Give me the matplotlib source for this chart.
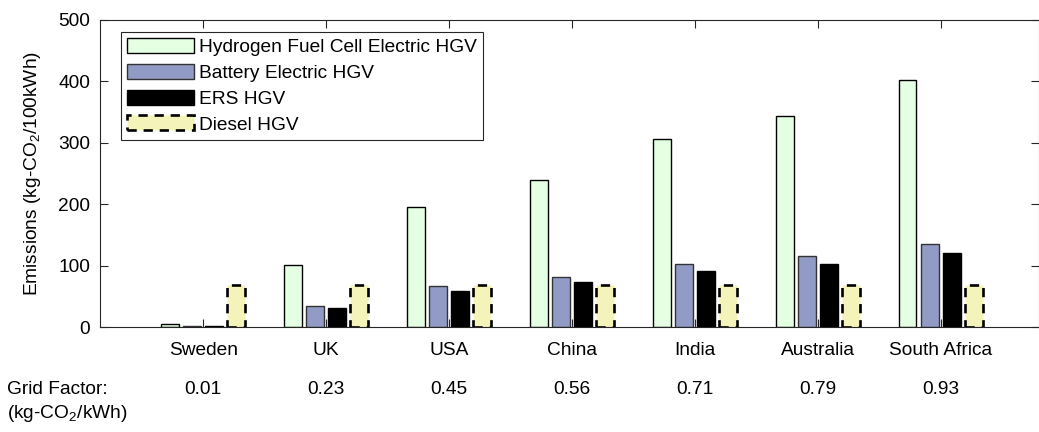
import matplotlib.pyplot as plt
import numpy as np

plt.rcParams['font.family'] = ['Liberation Sans', 'DejaVu Sans']
plt.rcParams['mathtext.default'] = 'regular'

countries = ['Sweden', 'UK', 'USA', 'China', 'India', 'Australia', 'South Africa']
grid_factor = ['0.01', '0.23', '0.45', '0.56', '0.71', '0.79', '0.93']

hydrogen = [4.5, 101, 196, 239, 307, 343, 403]
battery = [1.5, 34, 66, 81, 103, 115, 135]
ers = [1.3, 31, 59, 73, 92, 103, 121]
diesel = [69, 69, 69, 69, 69, 69, 69]

series_names = ['Hydrogen Fuel Cell Electric HGV', 'Battery Electric HGV',
                'ERS HGV', 'Diesel HGV']

fs = 13.8
dpi = 100
fig = plt.figure(figsize=(10.39, 4.32), dpi=dpi)
W, H = 1039, 432
ax = fig.add_axes([100 / W, (H - 327) / H, 939 / W, 307 / H])

x = np.arange(1, len(countries) + 1)
w = 0.146
off = 0.18

ax.bar(x - 1.5 * off, hydrogen, w, color='#E5FFE2', edgecolor='black',
       linewidth=1.0, label=series_names[0])
ax.bar(x - 0.5 * off, battery, w, color='#919BC6', edgecolor='#333333',
       linewidth=1.0, label=series_names[1])
ax.bar(x + 0.5 * off, ers, w, color='black', edgecolor='black',
       linewidth=1.0, label=series_names[2])
ax.bar(x + 1.5 * off, diesel, w, color='#F3F3BA', edgecolor='black',
       linewidth=1.9, linestyle=(0, (3.5, 2.6)), label=series_names[3])

ax.set_xlim(0.16, 7.8)
ax.set_ylim(0, 500)
ax.set_yticks([0, 100, 200, 300, 400, 500])
ax.set_xticks(x)
ax.set_xticklabels(countries, fontsize=fs)
ax.tick_params(axis='both', direction='in', length=5.5, width=0.8,
               top=True, right=True, color='#262626', labelsize=fs)
ax.tick_params(axis='x', pad=10.5)
ax.tick_params(axis='y', pad=7)
for s in ax.spines.values():
    s.set_linewidth(0.8)
    s.set_color('#262626')

ax.set_ylabel('Emissions (kg-CO$_2$/100kWh)', fontsize=fs, labelpad=11)

# second row under the country names
for xi, g in zip(x, grid_factor):
    ax.annotate(g, xy=(xi, 0), xycoords=('data', 'axes fraction'),
                xytext=(0, -62 * 72 / dpi), textcoords='offset points',
                ha='center', va='center', fontsize=fs)

fig.text(7 / W, 1 - 389 / H, 'Grid Factor:', ha='left', va='center', fontsize=fs)
fig.text(7 / W, 1 - 414 / H, '(kg-CO$_2$/kWh)', ha='left', va='center', fontsize=fs)

leg = ax.legend(loc='upper left', bbox_to_anchor=(21 / 939, 1 - 12 / 307),
                borderaxespad=0, fontsize=fs, handlelength=3.5,
                handleheight=0.82, handletextpad=0.25, labelspacing=0.4,
                borderpad=0.32, fancybox=False, framealpha=1,
                edgecolor='#262626')
leg.get_frame().set_linewidth(0.8)

fig.savefig('out.png', dpi=dpi)
